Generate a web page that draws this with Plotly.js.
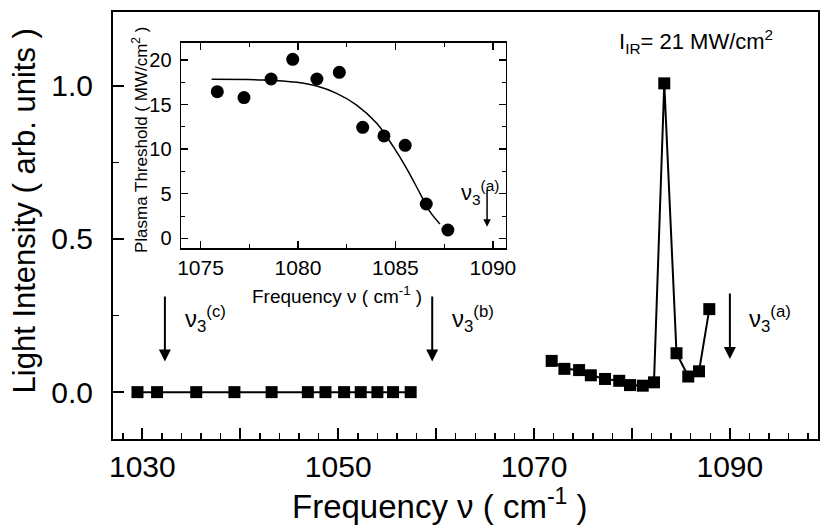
<!DOCTYPE html>
<html>
<head>
<meta charset="utf-8">
<script src="https://cdn.plot.ly/plotly-3.0.1.min.js"></script>
<style>html,body{margin:0;padding:0;background:#fff;}#chart{width:822px;height:526px;}</style>
</head>
<body>
<div id="chart"></div>
<script>
// ---- Main panel data: light intensity vs frequency ----
const lowFreq = [1029.5, 1031.5, 1035.5, 1039.4, 1043.2, 1046.9, 1048.7, 1050.6, 1052.3, 1054.0, 1055.6, 1057.4];
const lowIntensity = [0, 0, 0, 0, 0, 0, 0, 0, 0, 0, 0, 0];
const highFreq = [1071.8, 1073.1, 1074.6, 1075.8, 1077.25, 1078.7, 1079.8, 1081.1, 1082.25, 1083.3, 1084.55, 1085.75, 1086.85, 1087.9];
const highIntensity = [0.102, 0.076, 0.072, 0.055, 0.043, 0.037, 0.023, 0.021, 0.032, 1.008, 0.127, 0.051, 0.068, 0.271];

// ---- Inset data: plasma threshold vs frequency ----
const insetFreq = [1075.86, 1077.23, 1078.62, 1079.73, 1080.97, 1082.12, 1083.32, 1084.41, 1085.5, 1086.58, 1087.69];
const insetThreshold = [16.45, 15.78, 17.87, 20.07, 17.87, 18.62, 12.45, 11.48, 10.43, 3.85, 0.93];
const fitFreq = [1075.57, 1078.22, 1079.93, 1080.96, 1081.98, 1083.01, 1084.04, 1084.89, 1085.57, 1086.26, 1086.77, 1087.28];
const fitThreshold = [17.83, 17.76, 17.50, 17.08, 16.26, 14.95, 12.90, 10.28, 7.85, 5.05, 2.99, 1.61];

// ---- Markers of the nu3 bands ----
const nu3Tags = ['(c)', '(b)', '(a)'];
const nu3Freq = [1032.3, 1059.6, 1090.0];
const insetNu3Freq = 1089.7;

// ---- Tick labels ----
const mainXTicks = [1030, 1040, 1050, 1060, 1070, 1080, 1090];
const mainXTickText = ['1030', '', '1050', '', '1070', '', '1090'];
const mainYTicks = [0, 0.5, 1.0];
const mainYTickText = ['0.0', '0.5', '1.0'];
const insetXTicks = [1075, 1080, 1085, 1090];
const insetYTicks = [0, 5, 10, 15, 20];

const FONT = 'Liberation Sans, Arial, Helvetica, sans-serif';

const traces = [
  {x: lowFreq, y: lowIntensity, xaxis: 'x', yaxis: 'y', mode: 'lines+markers',
   line: {color: '#000', width: 2}, marker: {symbol: 'square', size: 12, color: '#000'}, showlegend: false},
  {x: highFreq, y: highIntensity, xaxis: 'x', yaxis: 'y', mode: 'lines+markers',
   line: {color: '#000', width: 2}, marker: {symbol: 'square', size: 12, color: '#000'}, showlegend: false},
  {x: fitFreq, y: fitThreshold, xaxis: 'x2', yaxis: 'y2', mode: 'lines',
   line: {color: '#000', width: 1.5, shape: 'spline'}, showlegend: false},
  {x: insetFreq, y: insetThreshold, xaxis: 'x2', yaxis: 'y2', mode: 'markers',
   marker: {symbol: 'circle', size: 13, color: '#000'}, showlegend: false}
];

const annotations = [];
nu3Freq.forEach((f, i) => {
  const tipY = i === 2 ? 0.108 : 0.100;
  const tailY = i === 2 ? 0.327 : 0.317;
  annotations.push({xref: 'x', yref: 'y', axref: 'x', ayref: 'y', x: f, y: tipY, ax: f, ay: tailY,
    text: '', showarrow: true, arrowhead: 2, arrowsize: 1.2, arrowwidth: 2, arrowcolor: '#000', standoff: 0});
  annotations.push({xref: 'x', yref: 'y', x: f + 1.9, y: 0.24, xanchor: 'left', yanchor: 'middle',
    text: 'ν<sub>3</sub><sup>' + nu3Tags[i] + '</sup>', showarrow: false, borderpad: 0,
    font: {family: FONT, size: 24, color: '#000'}});
});
annotations.push({xref: 'x2', yref: 'y2', axref: 'x2', ayref: 'y2', x: insetNu3Freq, y: 1.3, ax: insetNu3Freq, ay: 5.6,
  text: '', showarrow: true, arrowhead: 2, arrowsize: 1, arrowwidth: 1.5, arrowcolor: '#000', standoff: 0});
annotations.push({xref: 'x2', yref: 'y2', x: 1088.3, y: 5.1, xanchor: 'left', yanchor: 'middle',
  text: 'ν<sub>3</sub><sup>(a)</sup>', showarrow: false, borderpad: 0, font: {family: FONT, size: 22, color: '#000'}});
annotations.push({xref: 'x', yref: 'y', x: 1078.6, y: 1.146, xanchor: 'left', yanchor: 'middle',
  text: 'I<sub>IR</sub>= 21 MW/cm<sup>2</sup>', showarrow: false, borderpad: 0, font: {family: FONT, size: 22, color: '#000'}});
// axis titles
annotations.push({xref: 'paper', yref: 'paper', x: 0.464, y: -0.153, xanchor: 'center', yanchor: 'middle',
  text: 'Frequency ν ( cm<sup>-1</sup> )', showarrow: false, font: {family: FONT, size: 33, color: '#000'}});
annotations.push({xref: 'paper', yref: 'paper', x: -0.125, y: 0.535, xanchor: 'center', yanchor: 'middle', textangle: -90,
  text: 'Light Intensity ( arb. units )', showarrow: false, font: {family: FONT, size: 31, color: '#000'}});
annotations.push({xref: 'paper', yref: 'paper', x: 0.3184, y: 0.338, xanchor: 'center', yanchor: 'middle',
  text: 'Frequency ν ( cm<sup>-1</sup> )', showarrow: false, font: {family: FONT, size: 19, color: '#000'}});
annotations.push({xref: 'paper', yref: 'paper', x: 0.0383, y: 0.70, xanchor: 'center', yanchor: 'middle', textangle: -90,
  text: 'Plasma Threshold ( MW/cm<sup>2</sup> )', showarrow: false, font: {family: FONT, size: 17, color: '#000'}});

const layout = {
  width: 822, height: 526,
  margin: {l: 113, r: 4, t: 12, b: 87},
  paper_bgcolor: '#fff', plot_bgcolor: '#fff',
  font: {family: FONT, color: '#000'},
  showlegend: false,
  xaxis: {range: [1027, 1099], tickmode: 'array', tickvals: mainXTicks, ticktext: mainXTickText,
    ticks: 'inside', ticklen: 11, tickwidth: 2, tickcolor: '#000',
    minor: {tickmode: 'linear', tick0: 1030, dtick: 2, ticks: 'inside', ticklen: 6, tickwidth: 1.5, tickcolor: '#000'},
    showline: true, linewidth: 2, linecolor: '#000', mirror: true, showgrid: false, zeroline: false,
    tickfont: {family: FONT, size: 30, color: '#000'}, ticklabelstandoff: 0},
  yaxis: {range: [-0.153, 1.241], tickmode: 'array', tickvals: mainYTicks, ticktext: mainYTickText,
    ticks: 'inside', ticklen: 11, tickwidth: 2, tickcolor: '#000',
    minor: {tickmode: 'linear', tick0: 0, dtick: 0.25, ticks: 'inside', ticklen: 6, tickwidth: 1.5, tickcolor: '#000'},
    showline: true, linewidth: 2, linecolor: '#000', mirror: true, showgrid: false, zeroline: false,
    tickfont: {family: FONT, size: 30, color: '#000'}, ticklabelstandoff: 12},
  xaxis2: {domain: [0.0965, 0.5574], anchor: 'y2', range: [1074, 1090.67], tickmode: 'array', tickvals: insetXTicks,
    ticks: 'inside', ticklen: 7, tickwidth: 1.5, tickcolor: '#000',
    minor: {tickmode: 'linear', tick0: 1075, dtick: 2.5, ticks: 'inside', ticklen: 4, tickwidth: 1, tickcolor: '#000'},
    showline: true, linewidth: 1.5, linecolor: '#000', mirror: 'allticks', showgrid: false, zeroline: false,
    tickfont: {family: FONT, size: 21, color: '#000'}, ticklabelstandoff: 0},
  yaxis2: {domain: [0.4466, 0.9281], anchor: 'x2', range: [-1.12, 21.94], tickmode: 'array', tickvals: insetYTicks,
    ticks: 'inside', ticklen: 7, tickwidth: 1.5, tickcolor: '#000',
    minor: {tickmode: 'linear', tick0: 0, dtick: 2.5, ticks: 'inside', ticklen: 4, tickwidth: 1, tickcolor: '#000'},
    showline: true, linewidth: 1.5, linecolor: '#000', mirror: 'allticks', showgrid: false, zeroline: false,
    tickfont: {family: FONT, size: 20, color: '#000'}, ticklabelstandoff: 4},
  annotations: annotations
};

Plotly.newPlot('chart', traces, layout, {displayModeBar: false, staticPlot: true});
</script>
</body>
</html>
